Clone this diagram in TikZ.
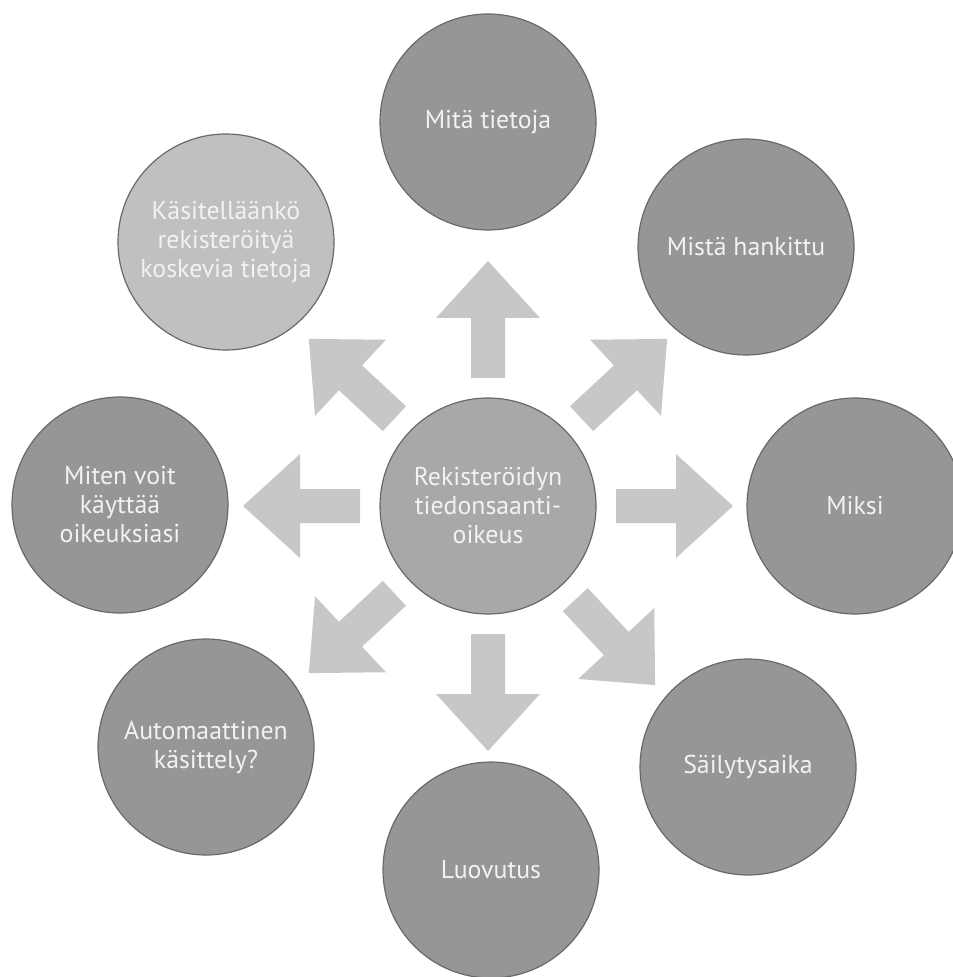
\documentclass[tikz,border=0pt]{standalone}
\usepackage{fontspec}
\setsansfont{PT Sans}
\definecolor{ballgray}{RGB}{150,150,150}
\definecolor{hubgray}{RGB}{168,168,168}
\definecolor{palegray}{RGB}{192,192,192}
\definecolor{arrowgray}{RGB}{199,199,199}
\definecolor{rimgray}{RGB}{105,105,105}
\tikzset{
  ball/.style={circle, draw=rimgray, line width=0.6pt, fill=ballgray,
    minimum size=108pt, inner sep=0pt, text=white!95!black, align=center,
    font=\sffamily\fontsize{12.9}{14.5}\selectfont},
  hubball/.style={ball, fill=hubgray},
  paleball/.style={ball, fill=palegray},
  blockarrow/.style={fill=arrowgray}
}
\begin{document}
\begin{tikzpicture}[x=0.5pt,y=0.5pt]
\useasboundingbox (0,0) rectangle (952,-977);
\node[hubball] (hub) at (488,-506) {Rekisteröidyn\\tiedonsaanti-\\oikeus};
\node[ball] (mita) at (488,-122) {Mitä tietoja};
\node[ball] (mista) at (746,-247) {Mistä hankittu};
\node[ball] (miksi) at (855,-506) {Miksi};
\node[ball] (sailytys) at (748,-767) {Säilytysaika};
\node[ball] (luovutus) at (491,-870) {Luovutus};
\node[ball] (automaatti) at (206,-747) {Automaattinen\\käsittely?};
\node[ball] (miten) at (120,-505) {Miten voit\\käyttää\\oikeuksiasi};
\node[paleball] (kasitellaanko) at (226,-242) {Käsitelläänkö\\rekisteröityä\\koskevia tietoja};
\foreach \a in {90,43,0,-47,-90,223,180,137}
  \fill[blockarrow, shift={(hub.center)}, rotate=\a]
    (128,-17) -- (188,-17) -- (188,-52) -- (245,0) -- (188,52) -- (188,17) -- (128,17) -- cycle;
\end{tikzpicture}
\end{document}
